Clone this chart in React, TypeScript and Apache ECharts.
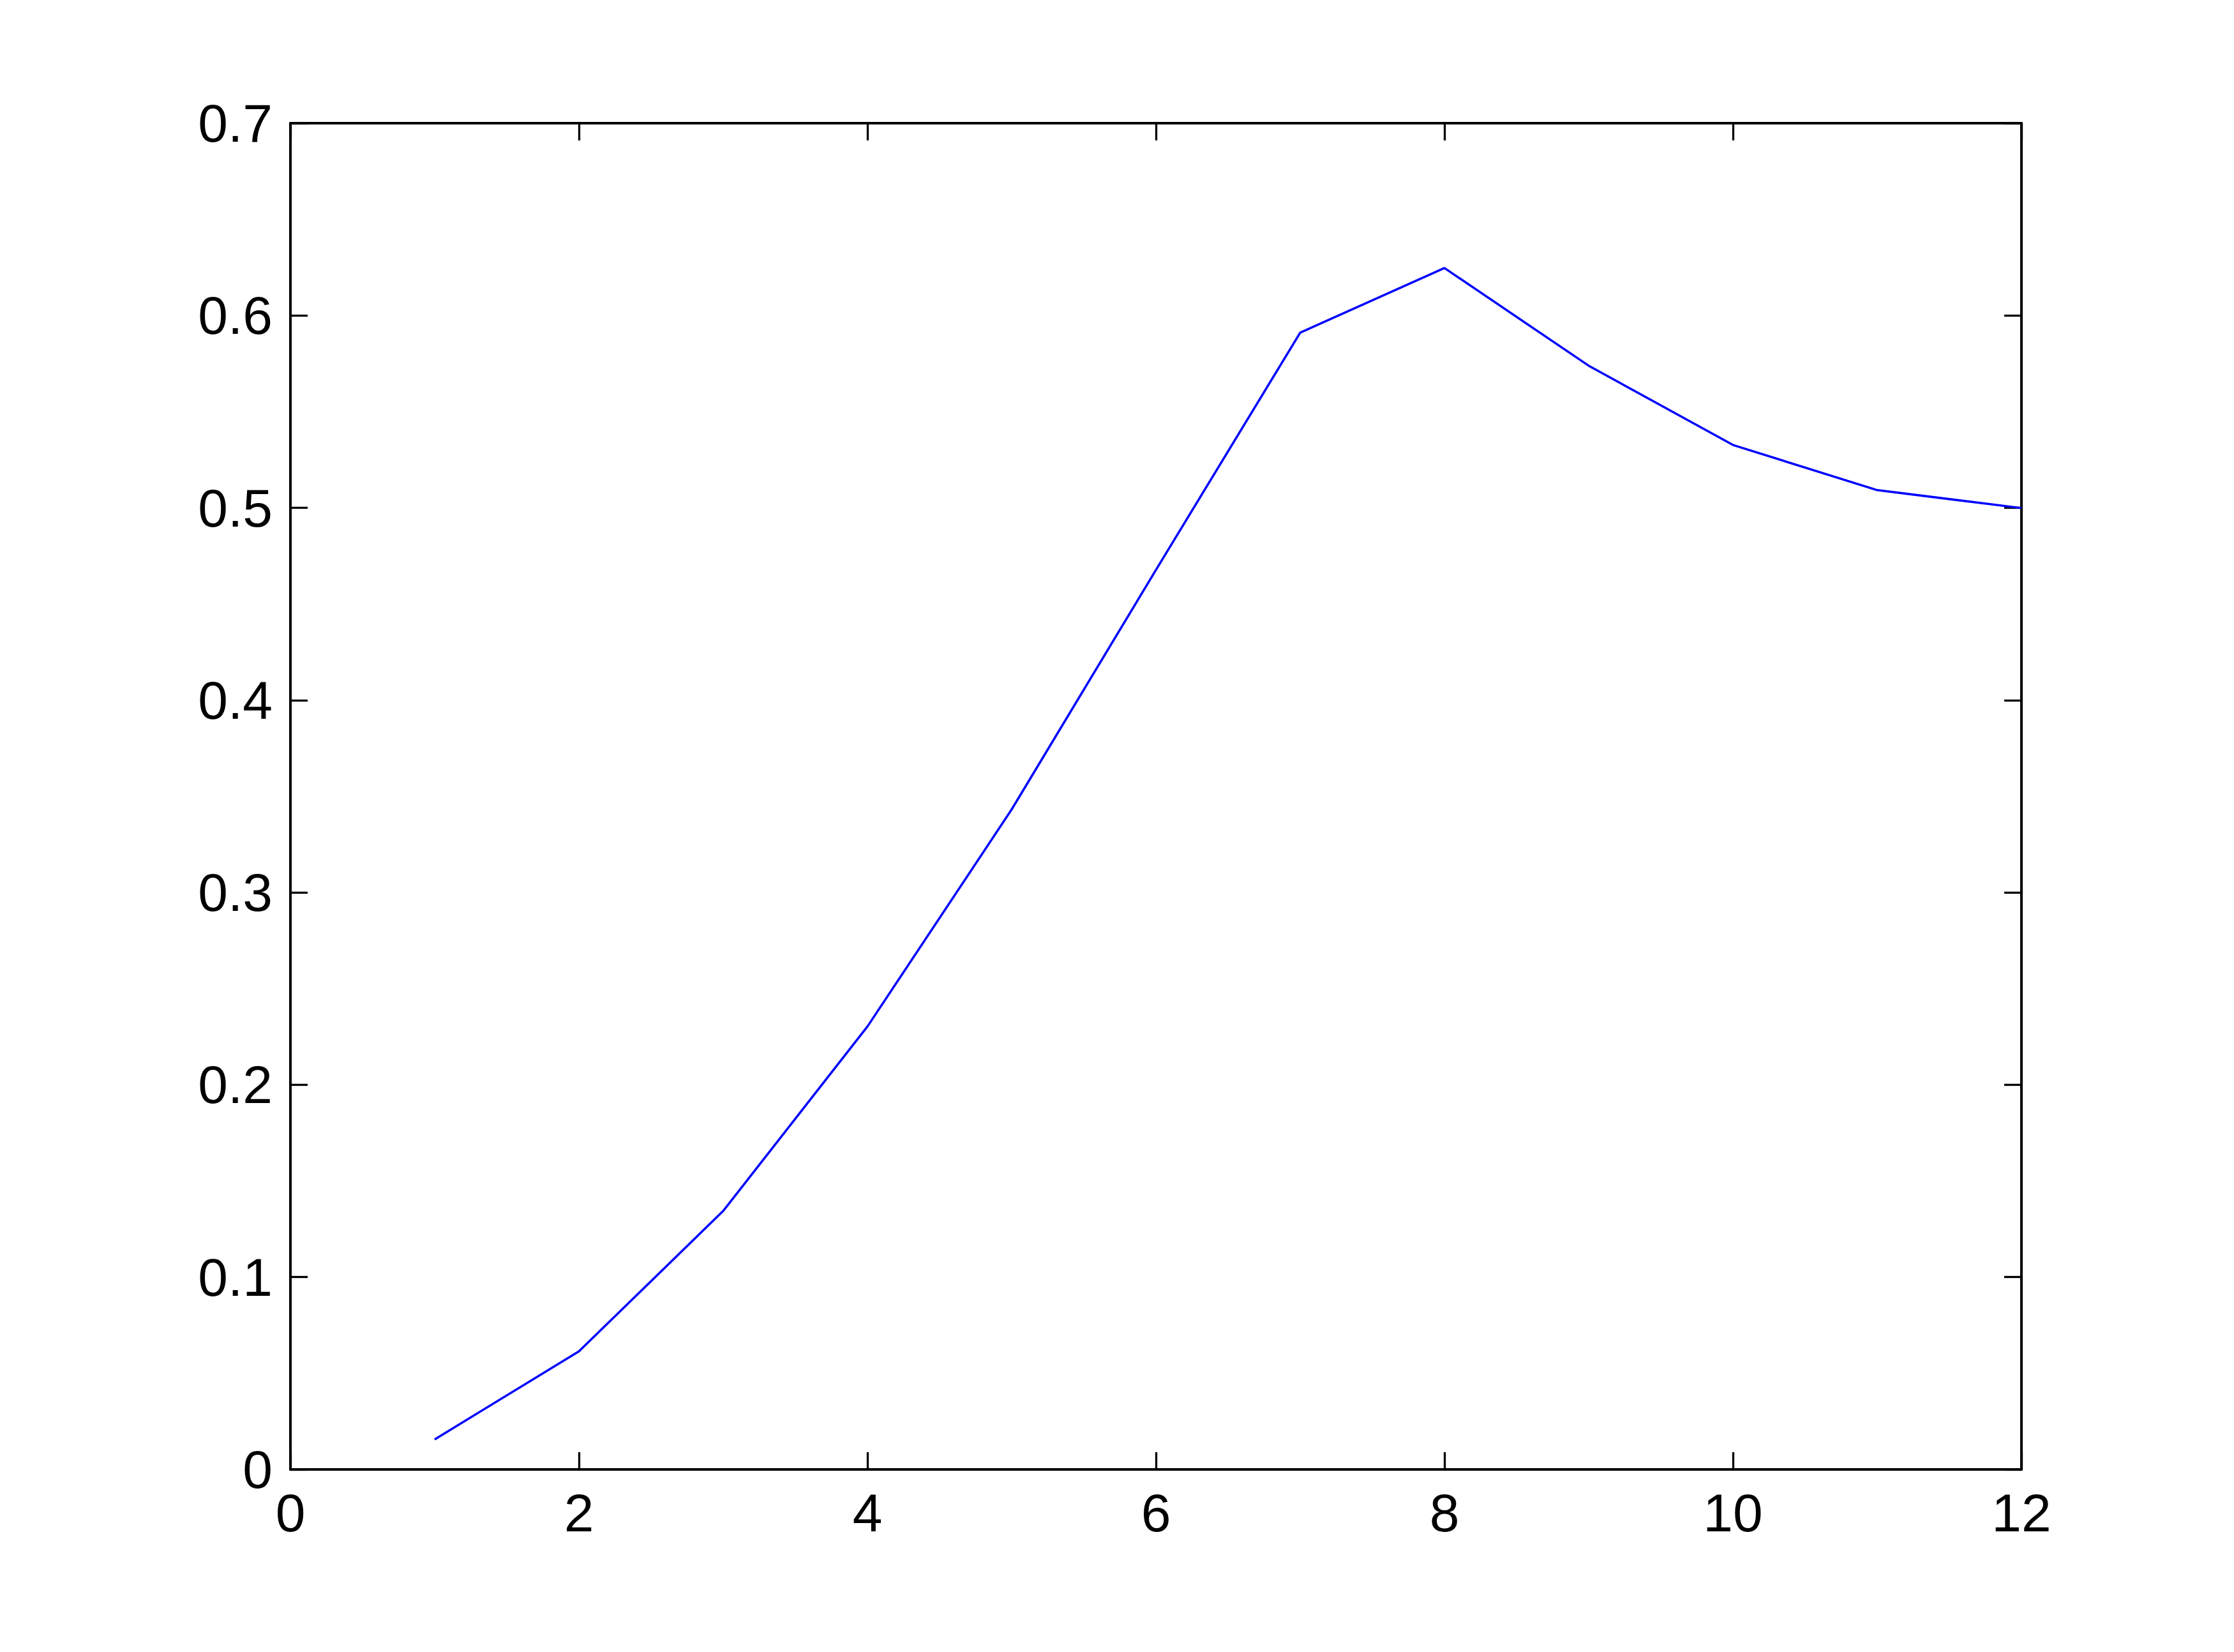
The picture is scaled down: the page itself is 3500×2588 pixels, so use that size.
import React, { useEffect, useRef } from "react";
import * as echarts from "echarts";

const xValues = [1, 2, 3, 4, 5, 6, 7, 8, 9, 10, 11, 12];
const yValues = [0.0156, 0.0614, 0.1344, 0.2303, 0.3432, 0.4677, 0.5911, 0.6247, 0.5739, 0.5327, 0.5092, 0.4999];

const X_MIN = 0;
const X_MAX = 12;
const X_STEP = 2;
const Y_MIN = 0;
const Y_MAX = 0.7;
const Y_STEP = 0.1;

export default function App() {
  const ref = useRef<HTMLDivElement>(null);

  useEffect(() => {
    if (!ref.current) return;
    const chart = echarts.init(ref.current, null, { renderer: "svg" });
    const font = "Liberation Sans, Arial, sans-serif";
    const axisLine = { show: true, onZero: false, lineStyle: { color: "#000", width: 4 } };
    const axisTick = { show: true, inside: true, length: 27, lineStyle: { color: "#000", width: 3.3 } };
    const label = { fontSize: 84, color: "#000", fontFamily: font };
    chart.setOption({
      animation: false,
      backgroundColor: "#fff",
      grid: { left: 455, top: 193, right: 333, bottom: 286, containLabel: false },
      xAxis: [
        {
          type: "value",
          min: X_MIN,
          max: X_MAX,
          interval: X_STEP,
          position: "bottom",
          axisLine,
          axisTick,
          splitLine: { show: false },
          axisLabel: { ...label, margin: 26 },
        },
        {
          type: "value",
          min: X_MIN,
          max: X_MAX,
          interval: X_STEP,
          position: "top",
          axisLine,
          axisTick,
          splitLine: { show: false },
          axisLabel: { show: false },
        },
      ],
      yAxis: [
        {
          type: "value",
          min: Y_MIN,
          max: Y_MAX,
          interval: Y_STEP,
          position: "left",
          axisLine,
          axisTick,
          splitLine: { show: false },
          axisLabel: { ...label, margin: 28 },
        },
        {
          type: "value",
          min: Y_MIN,
          max: Y_MAX,
          interval: Y_STEP,
          position: "right",
          axisLine,
          axisTick,
          splitLine: { show: false },
          axisLabel: { show: false },
        },
      ],
      series: [
        {
          type: "line",
          data: xValues.map((x, i) => [x, yValues[i]]),
          xAxisIndex: 0,
          yAxisIndex: 0,
          showSymbol: false,
          symbol: "none",
          lineStyle: { color: "#0000ff", width: 3.5 },
          clip: false,
        },
      ],
    });
    return () => chart.dispose();
  }, []);

  return (
    <div
      ref={ref}
      style={{ position: "fixed", left: 0, top: 0, width: 3500, height: 2588, background: "#fff" }}
    />
  );
}
